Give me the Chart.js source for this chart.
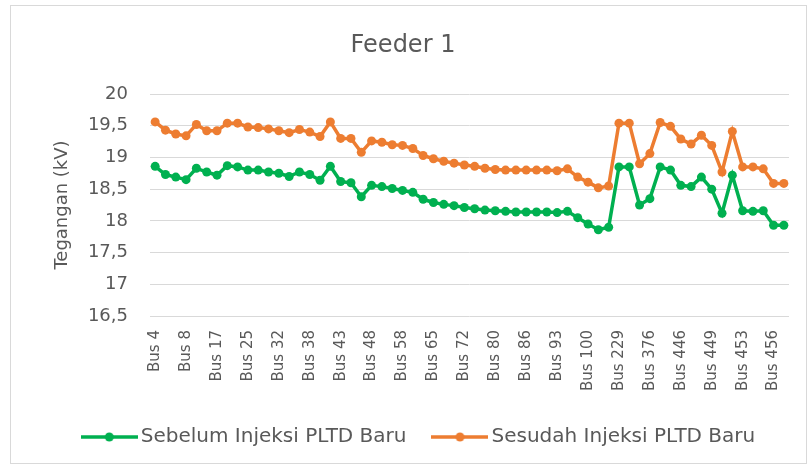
<!DOCTYPE html>
<html>
<head>
<meta charset="utf-8">
<title>Feeder 1</title>
<script src="https://cdn.jsdelivr.net/npm/chart.js@4.4.1/dist/chart.umd.min.js"></script>
<style>
  body { margin: 0; background: #fff; }
  .wadah { position: relative; width: 810px; height: 465px; }
  .bingkai {
    position: absolute; left: 10px; top: 5px; width: 795px; height: 457px;
    border: 1px solid #d9d9d9; pointer-events: none;
  }
</style>
</head>
<body>
<div class="wadah">
  <canvas id="feederChart" width="810" height="465"></canvas>
  <div class="bingkai"></div>
</div>
<script>
// --- 1. Data ---
const buses = [
  'Bus 4', 'Bus 5', 'Bus 6', 'Bus 8', 'Bus 10', 'Bus 13', 'Bus 17', 'Bus 19', 'Bus 22',
  'Bus 25', 'Bus 27', 'Bus 30', 'Bus 32', 'Bus 34', 'Bus 36', 'Bus 38', 'Bus 40', 'Bus 41',
  'Bus 43', 'Bus 45', 'Bus 46', 'Bus 48', 'Bus 51', 'Bus 55', 'Bus 58', 'Bus 60', 'Bus 62',
  'Bus 65', 'Bus 67', 'Bus 70', 'Bus 72', 'Bus 75', 'Bus 77', 'Bus 80', 'Bus 82', 'Bus 84',
  'Bus 86', 'Bus 88', 'Bus 90', 'Bus 93', 'Bus 95', 'Bus 97', 'Bus 100', 'Bus 102', 'Bus 104',
  'Bus 229', 'Bus 230', 'Bus 300', 'Bus 376', 'Bus 400', 'Bus 420', 'Bus 446', 'Bus 447', 'Bus 448',
  'Bus 449', 'Bus 451', 'Bus 452', 'Bus 453', 'Bus 454', 'Bus 455', 'Bus 456', 'Bus 457'
];

// Tegangan sebelum injeksi (kV)
const sebelum = [
  18.86, 18.73, 18.69, 18.65, 18.83, 18.77, 18.72, 18.87, 18.85,
  18.80, 18.80, 18.77, 18.75, 18.70, 18.77, 18.73, 18.64, 18.86,
  18.62, 18.60, 18.38, 18.56, 18.54, 18.51, 18.48, 18.45, 18.34,
  18.29, 18.26, 18.24, 18.21, 18.19, 18.17, 18.16, 18.15, 18.14,
  18.14, 18.14, 18.14, 18.13, 18.15, 18.05, 17.95, 17.86, 17.90,
  18.85, 18.85, 18.25, 18.35, 18.85, 18.80, 18.56, 18.54, 18.69,
  18.50, 18.12, 18.72, 18.16, 18.15, 18.16, 17.93, 17.93
];

// Tegangan sesudah injeksi (kV)
const sesudah = [
  19.56, 19.43, 19.37, 19.34, 19.52, 19.42, 19.42, 19.54, 19.54,
  19.48, 19.47, 19.45, 19.42, 19.39, 19.44, 19.40, 19.33, 19.56,
  19.30, 19.30, 19.08, 19.26, 19.24, 19.20, 19.19, 19.14, 19.03,
  18.98, 18.94, 18.91, 18.88, 18.86, 18.83, 18.81, 18.80, 18.80,
  18.80, 18.80, 18.80, 18.79, 18.82, 18.69, 18.61, 18.52, 18.55,
  19.54, 19.54, 18.90, 19.06, 19.55, 19.49, 19.29, 19.21, 19.35,
  19.19, 18.77, 19.41, 18.85, 18.85, 18.82, 18.59, 18.59
];

const HIJAU = '#00b050';
const ORANYE = '#ed7d31';
const ABU = '#595959';

// --- 2. Ikon legend (garis + titik, seperti Excel) ---
function buatIkon(warna) {
  const c = document.createElement('canvas');
  c.width = 57;
  c.height = 12;
  const g = c.getContext('2d');
  g.strokeStyle = warna;
  g.lineWidth = 3.5;
  g.beginPath();
  g.moveTo(0, 6);
  g.lineTo(57, 6);
  g.stroke();
  g.fillStyle = warna;
  g.beginPath();
  g.arc(28.5, 6, 4.5, 0, Math.PI * 2);
  g.fill();
  return c;
}
const ikonLegend = [buatIkon(HIJAU), buatIkon(ORANYE)];

// geser legend sedikit ke kanan (judul tetap di tengah)
const geserLegend = {
  id: 'geserLegend',
  afterLayout(chart) {
    chart.legend.left += 18.5;
    chart.legend.right += 18.5;
  }
};

// --- 3. Grafik ---
Chart.defaults.font.family = 'DejaVu Sans';
Chart.defaults.color = ABU;

const ctx = document.getElementById('feederChart').getContext('2d');

new Chart(ctx, {
  type: 'line',
  data: {
    labels: buses,
    datasets: [
      {
        label: 'Sebelum Injeksi PLTD Baru',
        data: sebelum,
        borderColor: HIJAU,
        backgroundColor: HIJAU,
        borderWidth: 3.5,
        pointRadius: 4.5,
        pointBorderWidth: 0,
        tension: 0
      },
      {
        label: 'Sesudah Injeksi PLTD Baru',
        data: sesudah,
        borderColor: ORANYE,
        backgroundColor: ORANYE,
        borderWidth: 3.5,
        pointRadius: 4.5,
        pointBorderWidth: 0,
        tension: 0
      }
    ]
  },
  options: {
    responsive: false,
    animation: false,
    layout: { padding: { left: 13, right: 17, top: 0, bottom: 8 } },
    plugins: {
      title: {
        display: true,
        text: 'Feeder 1',
        color: ABU,
        font: { size: 24, weight: 'normal' },
        padding: { top: 31.6, bottom: 33.6 }
      },
      legend: {
        position: 'bottom',
        labels: {
          usePointStyle: true,
          pointStyleWidth: 43,
          padding: 32,
          color: ABU,
          font: { size: 20 },
          generateLabels: (chart) => {
            const items = Chart.defaults.plugins.legend.labels.generateLabels(chart);
            items.forEach((item, i) => { item.pointStyle = ikonLegend[i]; });
            return items;
          }
        }
      },
      tooltip: { enabled: true }
    },
    scales: {
      x: {
        offset: true,
        // tick tidak digambar, tapi panjangnya dipakai sebagai jarak label
        grid: { display: false, drawTicks: true, tickLength: 6 },
        border: { display: false },
        ticks: {
          autoSkip: false,
          minRotation: 90,
          maxRotation: 90,
          padding: 8,
          font: { size: 15 },
          callback: (val, idx) => (idx % 3 === 0 ? buses[idx] : '')
        },
        afterFit: (scale) => { scale.height = 79; }
      },
      y: {
        min: 16.5,
        max: 20,
        grid: { color: '#d9d9d9', drawTicks: false },
        border: { display: false },
        ticks: {
          stepSize: 0.5,
          padding: 22,
          font: { size: 18 },
          callback: (v) => String(Math.round(v * 10) / 10).replace('.', ',')
        },
        title: {
          display: true,
          text: 'Tegangan (kV)',
          color: ABU,
          font: { size: 18 },
          padding: { top: 38.2, bottom: 0 }
        },
        afterFit: (scale) => { scale.width = 137; }
      }
    }
  },
  plugins: [geserLegend]
});
</script>
</body>
</html>
